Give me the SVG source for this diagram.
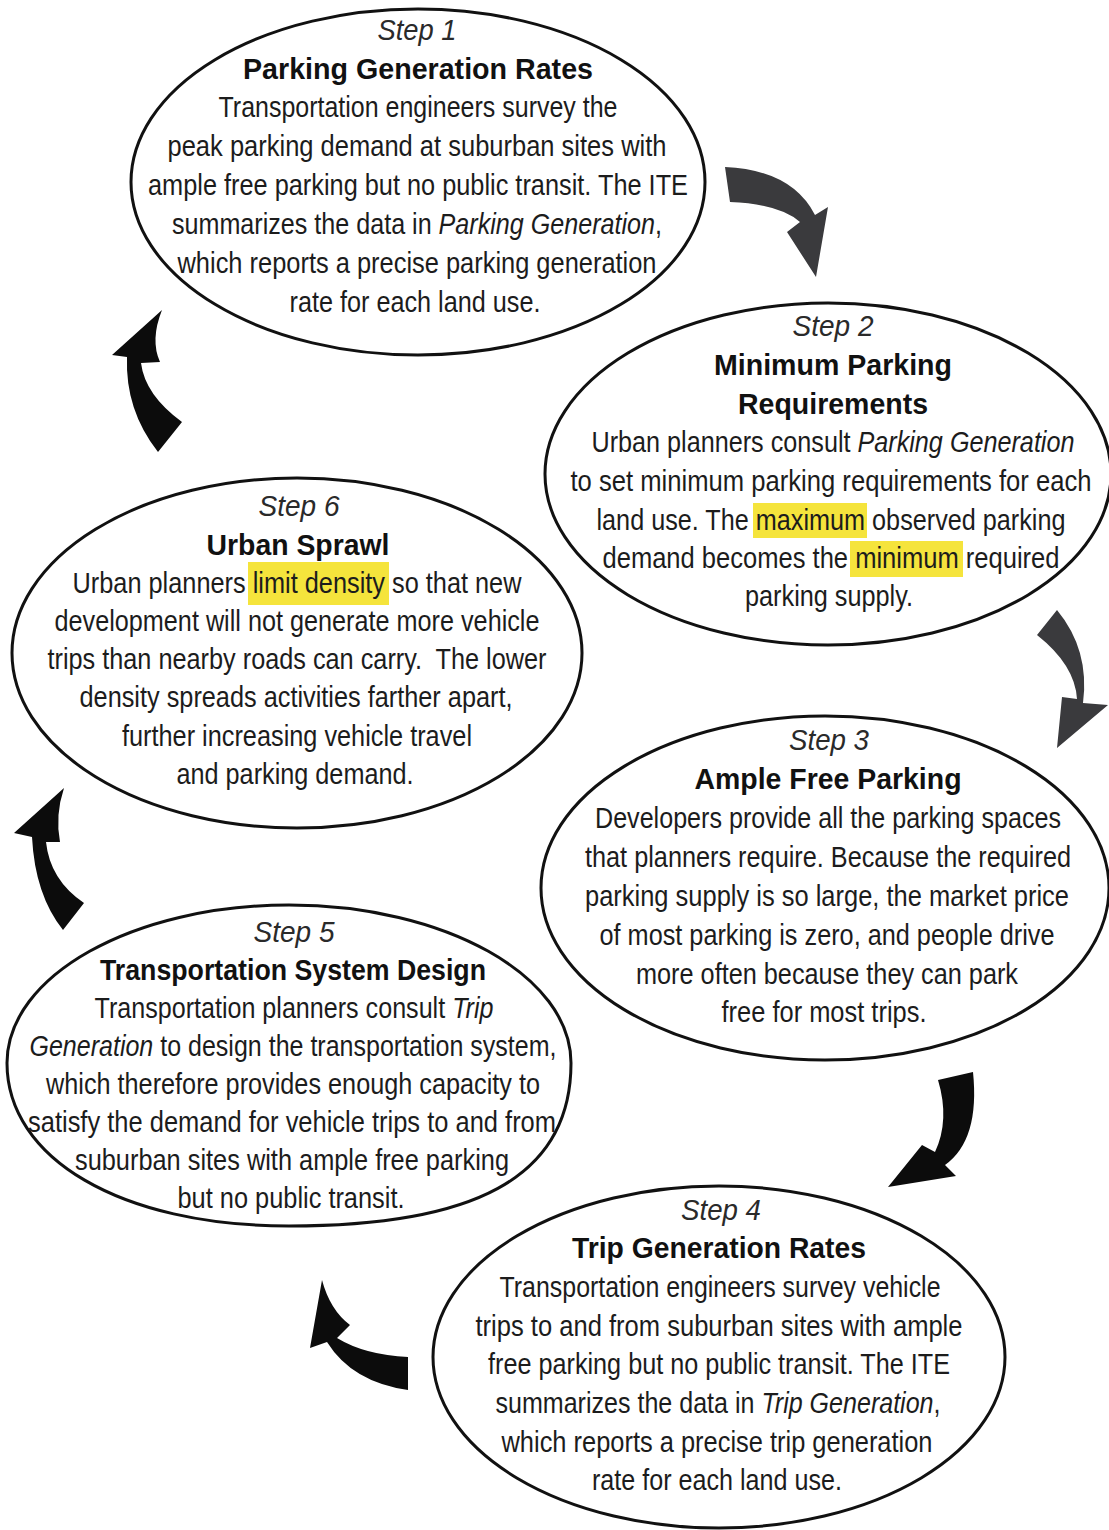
<svg xmlns="http://www.w3.org/2000/svg" width="1109" height="1530" viewBox="0 0 1109 1530">
<style>
.ell{fill:#fff;stroke:#111;stroke-width:3}
.t{font-family:"Liberation Sans",Arial,sans-serif;font-size:29px;text-anchor:middle;fill:#1c1c1c}
.step{font-style:italic;fill:#2a2a2a}
.title{font-weight:bold;fill:#111}
.hl{fill:#f5e43c}
.arr-g{fill:#3a3a3d}
.arr-k{fill:#0c0c0c}
</style>
<rect width="1109" height="1530" fill="#fff"/>

<g id="connectors">
  <path class="arr-g" d="M725,167 Q792,170 815,215 L828,207 L816,277 L787,232 L800,222 Q780,204 730,202 Z"/>
  <path class="arr-g" d="M1057,610 Q1090,650 1083,703 L1108,705 L1057,748 L1062,697 L1077,699 Q1075,665 1037,635 Z"/>
  <path class="arr-k" d="M938,1080 L973,1072 Q980,1140 945,1165 L956,1176 L888,1187 L922,1145 L935,1152 Q950,1120 938,1080 Z"/>
  <path class="arr-k" d="M322,1280 L310,1348 L327,1342 Q352,1382 408,1390 L408,1357 Q365,1355 337,1338 L350,1325 Q330,1310 322,1280 Z"/>
  <path class="arr-k" d="M64,788 L14,833 L32,837 Q35,895 63,930 L84,903 Q50,880 46,842 L60,842 Q55,815 64,788 Z"/>
  <path class="arr-k" d="M162,310 L112,355 L127,357 Q125,410 158,452 L182,422 Q145,395 141,363 L160,362 Q150,340 162,310 Z"/>
</g>

<g id="step1">
  <ellipse class="ell" cx="418" cy="182" rx="287" ry="173"/>
  <text class="t step" x="417" y="40" textLength="79" lengthAdjust="spacingAndGlyphs">Step 1</text>
  <text class="t title" x="418" y="79" textLength="350" lengthAdjust="spacingAndGlyphs">Parking Generation Rates</text>
  <text class="t" x="418" y="117" textLength="399" lengthAdjust="spacingAndGlyphs">Transportation engineers survey the</text>
  <text class="t" x="417" y="156" textLength="499" lengthAdjust="spacingAndGlyphs">peak parking demand at suburban sites with</text>
  <text class="t" x="418" y="195" textLength="540" lengthAdjust="spacingAndGlyphs">ample free parking but no public transit. The ITE</text>
  <text class="t" x="417" y="234" textLength="490" lengthAdjust="spacingAndGlyphs">summarizes the data in <tspan font-style="italic">Parking Generation</tspan>,</text>
  <text class="t" x="417" y="273" textLength="479" lengthAdjust="spacingAndGlyphs">which reports a precise parking generation</text>
  <text class="t" x="415" y="312" textLength="251" lengthAdjust="spacingAndGlyphs">rate for each land use.</text>
</g>

<g id="step2">
  <ellipse class="ell" cx="828" cy="474" rx="283" ry="171"/>
  <rect class="hl" x="753" y="503" width="114" height="35"/>
  <rect class="hl" x="850" y="541" width="113" height="36"/>
  <text class="t step" x="833" y="336" textLength="81" lengthAdjust="spacingAndGlyphs">Step 2</text>
  <text class="t title" x="833" y="375" textLength="238" lengthAdjust="spacingAndGlyphs">Minimum Parking</text>
  <text class="t title" x="833" y="414" textLength="190" lengthAdjust="spacingAndGlyphs">Requirements</text>
  <text class="t" x="833" y="452" textLength="483" lengthAdjust="spacingAndGlyphs">Urban planners consult <tspan font-style="italic">Parking Generation</tspan></text>
  <text class="t" x="831" y="491" textLength="521" lengthAdjust="spacingAndGlyphs">to set minimum parking requirements for each</text>
  <text class="t" x="831" y="530" textLength="469" lengthAdjust="spacingAndGlyphs">land use. The maximum observed parking</text>
  <text class="t" x="831" y="568" textLength="457" lengthAdjust="spacingAndGlyphs">demand becomes the minimum required</text>
  <text class="t" x="829" y="606" textLength="168" lengthAdjust="spacingAndGlyphs">parking supply.</text>
</g>

<g id="step3">
  <ellipse class="ell" cx="825" cy="888" rx="284" ry="172"/>
  <text class="t step" x="829" y="750" textLength="80" lengthAdjust="spacingAndGlyphs">Step 3</text>
  <text class="t title" x="828" y="789" textLength="267" lengthAdjust="spacingAndGlyphs">Ample Free Parking</text>
  <text class="t" x="828" y="828" textLength="466" lengthAdjust="spacingAndGlyphs">Developers provide all the parking spaces</text>
  <text class="t" x="828" y="867" textLength="486" lengthAdjust="spacingAndGlyphs">that planners require. Because the required</text>
  <text class="t" x="827" y="906" textLength="484" lengthAdjust="spacingAndGlyphs">parking supply is so large, the market price</text>
  <text class="t" x="827" y="945" textLength="455" lengthAdjust="spacingAndGlyphs">of most parking is zero, and people drive</text>
  <text class="t" x="827" y="984" textLength="382" lengthAdjust="spacingAndGlyphs">more often because they can park</text>
  <text class="t" x="824" y="1022" textLength="205" lengthAdjust="spacingAndGlyphs">free for most trips.</text>
</g>

<g id="step4">
  <ellipse class="ell" cx="719" cy="1357" rx="286" ry="171"/>
  <text class="t step" x="721" y="1220" textLength="80" lengthAdjust="spacingAndGlyphs">Step 4</text>
  <text class="t title" x="719" y="1258" textLength="294" lengthAdjust="spacingAndGlyphs">Trip Generation Rates</text>
  <text class="t" x="720" y="1297" textLength="441" lengthAdjust="spacingAndGlyphs">Transportation engineers survey vehicle</text>
  <text class="t" x="719" y="1336" textLength="487" lengthAdjust="spacingAndGlyphs">trips to and from suburban sites with ample</text>
  <text class="t" x="719" y="1374" textLength="462" lengthAdjust="spacingAndGlyphs">free parking but no public transit. The ITE</text>
  <text class="t" x="718" y="1413" textLength="445" lengthAdjust="spacingAndGlyphs">summarizes the data in <tspan font-style="italic">Trip Generation</tspan>,</text>
  <text class="t" x="717" y="1452" textLength="431" lengthAdjust="spacingAndGlyphs">which reports a precise trip generation</text>
  <text class="t" x="717" y="1490" textLength="250" lengthAdjust="spacingAndGlyphs">rate for each land use.</text>
</g>

<g id="step5">
  <path class="ell" d="M7,1063 C7,975.8 133.3,905 289,905 C444.7,905 571,975.8 571,1063 C571,1180 470,1226 289,1226 C120,1226 7,1158 7,1063 Z"/>
  <text class="t step" x="294" y="942" textLength="81" lengthAdjust="spacingAndGlyphs">Step 5</text>
  <text class="t title" x="293" y="980" textLength="386" lengthAdjust="spacingAndGlyphs">Transportation System Design</text>
  <text class="t" x="294" y="1018" textLength="399" lengthAdjust="spacingAndGlyphs">Transportation planners consult <tspan font-style="italic">Trip</tspan></text>
  <text class="t" x="293" y="1056" textLength="527" lengthAdjust="spacingAndGlyphs"><tspan font-style="italic">Generation</tspan> to design the transportation system,</text>
  <text class="t" x="293" y="1094" textLength="494" lengthAdjust="spacingAndGlyphs">which therefore provides enough capacity to</text>
  <text class="t" x="292" y="1132" textLength="528" lengthAdjust="spacingAndGlyphs">satisfy the demand for vehicle trips to and from</text>
  <text class="t" x="292" y="1170" textLength="434" lengthAdjust="spacingAndGlyphs">suburban sites with ample free parking</text>
  <text class="t" x="291" y="1208" textLength="227" lengthAdjust="spacingAndGlyphs">but no public transit.</text>
</g>

<g id="step6">
  <ellipse class="ell" cx="297" cy="653" rx="285" ry="175"/>
  <rect class="hl" x="248" y="562" width="141" height="43"/>
  <text class="t step" x="299" y="516" textLength="81" lengthAdjust="spacingAndGlyphs">Step 6</text>
  <text class="t title" x="298" y="555" textLength="183" lengthAdjust="spacingAndGlyphs">Urban Sprawl</text>
  <text class="t" x="297" y="593" textLength="449" lengthAdjust="spacingAndGlyphs">Urban planners limit density so that new</text>
  <text class="t" x="297" y="631" textLength="485" lengthAdjust="spacingAndGlyphs">development will not generate more vehicle</text>
  <text class="t" x="297" y="669" textLength="499" lengthAdjust="spacingAndGlyphs" xml:space="preserve">trips than nearby roads can carry.  The lower</text>
  <text class="t" x="296" y="707" textLength="433" lengthAdjust="spacingAndGlyphs">density spreads activities farther apart,</text>
  <text class="t" x="297" y="746" textLength="350" lengthAdjust="spacingAndGlyphs">further increasing vehicle travel</text>
  <text class="t" x="295" y="784" textLength="237" lengthAdjust="spacingAndGlyphs">and parking demand.</text>
</g>
</svg>
